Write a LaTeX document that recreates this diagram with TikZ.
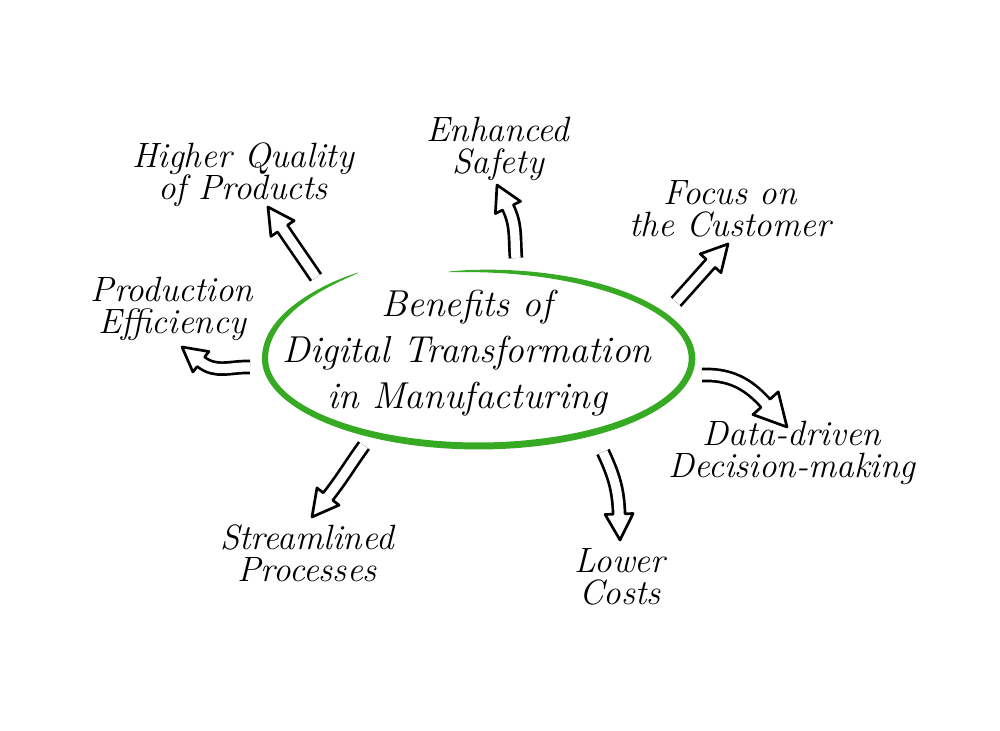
\documentclass[tikz,border=0pt]{standalone}
\usepackage{tikz}
\usetikzlibrary{calc}
\definecolor{ringgreen}{RGB}{55,170,35}

% hollow arrow: base, tip, start angle, head angle, head length, head half-width
\newcommand{\benefitarrow}[6]{%
  \pgfmathsetmacro\backangle{#4+180}%
  \draw[arrowshaft] (#1) to[out=#3, in=\backangle] ($(#2)+(\backangle:#5)$);
  \path[arrowhead, shift={(#2)}, rotate=#4]
    (-#5,6) -- (-#5,#6) -- (0,0) -- (-#5,-#6) -- (-#5,-6);
}

\begin{document}
\begin{tikzpicture}[x=0.03cm, y=0.03cm,
  benefit/.style={align=center, inner sep=0pt,
    font=\fontsize{30}{27.5}\selectfont\itshape},
  topic/.style={align=center, inner sep=0pt,
    font=\fontsize{32}{39}\selectfont\itshape},
  arrowshaft/.style={draw, line width=2.3pt, double=white, double distance=7.9pt},
  arrowhead/.style={draw, fill=white, line width=2.3pt, line join=round, line cap=round},
  declare function={ringu(\t)=max(0,(-180-(\t))/60);
    ringf(\t)=1+0.13*ringu(\t)*ringu(\t);
    ringh(\t)=2.6*sqrt(min(1,2.5*sin((98.5-(\t))/339*180)))
      +0.9*sin((98.5-(\t))/339*180);}]
\useasboundingbox (0,0) rectangle (1000,731);
\fill[white] (0,0) rectangle (1000,731);

% hand-drawn ring round the topic
\fill[ringgreen]
  plot[domain=98:-240, samples=160, variable=\t]
    ({478.5+(213.5*ringf(\t)+ringh(\t))*cos(\t)}, {372.5+(87.5*ringf(\t)+ringh(\t))*sin(\t)})
  -- plot[domain=-240:98, samples=160, variable=\t]
    ({478.5+(213.5*ringf(\t)-ringh(\t))*cos(\t)}, {372.5+(87.5*ringf(\t)-ringh(\t))*sin(\t)})
  -- cycle;

\node[topic] (topic) at (467,378) {Benefits of\\Digital Transformation\\in Manufacturing};

\node[benefit] (quality) at (243,556) {Higher Quality\\of Products};
\node[benefit] (safety) at (498,582) {Enhanced\\Safety};
\node[benefit] (customer) at (730,522) {Focus on\\the Customer};
\node[benefit] (efficiency) at (172,422) {Production\\Efficiency};
\node[benefit] (decision) at (792,278) {Data-driven\\Decision-making};
\node[benefit] (processes) at (307,178) {Streamlined\\Processes};
\node[benefit] (costs) at (620,154) {Lower\\Costs};

% arrow ends
\coordinate (quality-base) at (316,453.5);
\coordinate (quality-tip) at (268,524);
\coordinate (safety-base) at (516,473);
\coordinate (safety-tip) at (497,546);
\coordinate (customer-base) at (676,429);
\coordinate (customer-tip) at (728,487);
\coordinate (efficiency-base) at (250,364);
\coordinate (efficiency-tip) at (182,384);
\coordinate (decision-base) at (702,356);
\coordinate (decision-tip) at (787,304);
\coordinate (processes-base) at (364,285.5);
\coordinate (processes-tip) at (312,214);
\coordinate (costs-base) at (603,279);
\coordinate (costs-tip) at (620,191);

\foreach \n/\o/\h/\hl/\hw in {quality/124/124/26/14, safety/95/116/25/14,
    customer/48/48/26/14, efficiency/178/142/24/13, decision/2/-48/32/17,
    processes/-126/-128/26/14, costs/-65/-88/26/14}
  \benefitarrow{\n-base}{\n-tip}{\o}{\h}{\hl}{\hw};
\end{tikzpicture}
\end{document}
